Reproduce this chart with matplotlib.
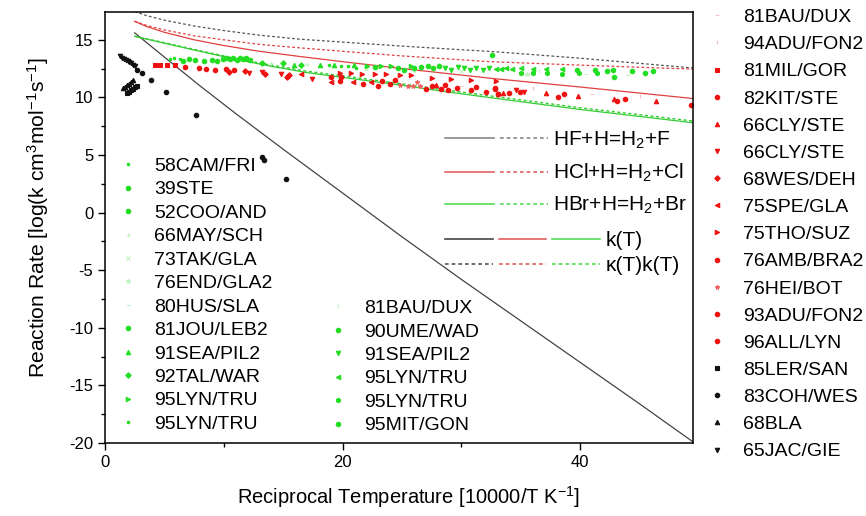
import matplotlib
matplotlib.use("Agg")
import matplotlib.pyplot as plt
from matplotlib.legend_handler import HandlerTuple
from matplotlib.lines import Line2D

plt.rcParams['font.family'] = ['Liberation Sans', 'DejaVu Sans']
plt.rcParams['mathtext.fontset'] = 'custom'
plt.rcParams['mathtext.rm'] = 'Liberation Sans'
plt.rcParams['mathtext.it'] = 'Liberation Sans:italic'
plt.rcParams['axes.unicode_minus'] = False

# --- theory curves (x = 10000/T, y = log k) ---
hf_k_x = [2.5, 5, 8, 11, 15, 20, 25, 30, 35, 40, 45, 49.5]
hf_k_y = [15.6, 13.5, 11.0, 8.6, 5.5, 1.7, -2.1, -5.8, -9.4, -13.0, -16.6, -19.9]
hf_kk_x = [2.5, 3.5, 5, 7.5, 10, 13, 16.4, 20, 25, 33, 40, 49.5]
hf_kk_y = [17.45, 17.1, 16.7, 16.2, 15.8, 15.4, 15.05, 14.8, 14.45, 13.95, 13.4, 12.55]

hcl_k_x = [2.5, 3.5, 5, 7.5, 10, 13, 16.4, 20, 25, 29, 33, 40, 49.5]
hcl_k_y = [16.6, 16.15, 15.65, 15.0, 14.5, 14.0, 13.55, 13.1, 12.5, 12.05, 11.6, 10.9, 9.9]
hcl_kk_x = [2.5, 3.5, 5, 7.5, 10, 13, 16.4, 20, 25, 32.4, 40, 49.5]
hcl_kk_y = [16.6, 16.25, 15.85, 15.35, 15.0, 14.6, 14.3, 14.0, 13.6, 13.1, 12.8, 12.45]

hbr_k_x = [2.5, 5, 8, 11, 14, 17, 21, 25, 29, 33, 40, 49.5]
hbr_k_y = [15.3, 14.7, 14.0, 13.3, 12.7, 12.15, 11.6, 11.05, 10.45, 9.9, 8.95, 7.8]
hbr_kk_x = [2.5, 5, 8, 11, 14, 17, 21, 25, 29, 33, 40, 49.5]
hbr_kk_y = [15.3, 14.75, 14.05, 13.38, 12.8, 12.27, 11.73, 11.18, 10.6, 10.05, 9.1, 7.95]

# --- HBr + H data (green) ---
g58cam = ([5.5, 5.8, 6.3], [13.32, 13.4, 13.32])
g39ste = ([6.6, 7.1, 7.6], [13.2, 13.32, 13.26])
g52coo = ([8.3, 9.0, 9.4], [13.2, 13.26, 13.12])
g66may = ([14.0, 17.0], [13.0, 12.9])
g73tak = ([22.0, 30.0], [12.5, 12.3])
g76end = ([26.0, 35.5], [12.4, 12.0])
g80hus = ([40.5, 44.0], [12.0, 11.9])
g81jou = ([9.9, 10.2, 10.5, 10.8, 11.1, 11.35, 11.6, 11.9, 12.2],
          [13.32, 13.4, 13.32, 13.38, 13.26, 13.38, 13.32, 13.38, 13.26])
g91sea = ([15.9, 18.1, 19.3, 21.0], [12.8, 12.8, 12.8, 12.8])
g92tal = ([13.2, 15.0, 16.5], [12.98, 12.98, 12.8])
g95lyn1 = ([22.05, 23.25, 24.1, 25.8], [12.75, 12.7, 12.7, 12.7])
g95lyn2 = ([18.9, 19.9, 20.45, 21.15], [12.8, 12.75, 12.7, 12.55])
g81bau = ([28.0, 36.5], [12.8, 12.3])
g90ume = ([22.7, 24.65, 25.2, 26.05, 26.6, 27.2, 27.6, 28.15],
          [12.6, 12.55, 12.35, 12.55, 12.6, 12.7, 12.55, 12.7])
g91sea2 = ([28.6, 29.15, 29.7, 30.25, 30.7, 31.25, 31.8, 32.35],
           [12.55, 12.35, 12.6, 12.55, 12.35, 12.55, 12.4, 12.55])
g95lyn3 = ([32.9, 33.3, 33.75, 34.3, 35.0, 36.0, 37.1, 38.45],
           [12.45, 12.45, 12.55, 12.45, 12.55, 12.45, 12.45, 12.45])
g95lyn4 = ([35.0, 36.0, 37.25, 38.45, 39.9, 41.4], [12.1, 12.15, 12.1, 12.05, 12.1, 12.1])
g95mit = ([39.7, 41.25, 42.3, 42.8, 42.85, 44.4, 45.5, 46.1, 32.6],
          [12.4, 12.4, 12.25, 12.35, 11.8, 12.25, 12.1, 12.25, 13.7])

# --- HCl + H data (red) ---
r81bau = ([30.0, 41.0], [11.0, 10.3])
r94adu = ([36.0, 45.0], [10.8, 10.1])
r81mil = ([4.2, 4.6, 5.2, 5.9], [12.83, 12.83, 12.83, 12.83])
r82kit = ([6.7, 7.9, 8.5, 9.3, 10.2, 10.9], [12.63, 12.55, 12.5, 12.4, 12.45, 12.4])
r66cly1 = ([37.1, 39.8, 42.85, 46.4, 27.9, 33.5], [10.4, 10.1, 9.9, 9.65, 11.1, 10.4])
r66cly2 = ([12.1, 13.2, 14.8, 17.4, 35.3, 34.6], [12.1, 12.2, 12.0, 11.6, 10.5, 10.6])
r68wes = ([10.4, 11.8, 13.5, 15.3, 15.5], [12.2, 12.3, 12.0, 11.8, 11.95])
r75spe = ([16.5, 19.0, 20.9, 22.4], [12.0, 11.3, 11.3, 11.3])
r75tho = ([19.8, 20.7, 21.6, 22.7, 23.7, 24.8, 25.8, 27.5, 29.1, 30.8, 32.9],
          [12.1, 12.1, 12.0, 12.0, 12.0, 11.9, 11.9, 11.7, 11.6, 11.5, 11.4])
r76amb = ([19.0, 19.8, 19.9, 21.7, 23.0, 23.3, 24.0, 24.4],
          [11.8, 11.4, 11.8, 11.2, 11.0, 11.4, 11.2, 11.5])
r76hei = ([24.8, 25.5, 25.9, 26.3, 26.5], [11.1, 10.95, 10.95, 11.3, 11.0])
r93adu = ([27.0, 27.5, 28.3, 28.6, 28.9, 29.6, 30.8, 31.2, 32.1, 32.8, 33.1],
          [10.7, 11.0, 10.7, 11.1, 10.6, 10.8, 10.6, 10.9, 10.5, 10.8, 10.3])
r96all = ([32.8, 33.05, 34.0, 34.9, 38.1, 38.65, 43.1, 43.8, 49.3],
          [10.7, 10.3, 10.4, 10.5, 10.0, 10.3, 9.65, 9.85, 9.35])

# --- HF + H data (black) ---
k85ler = ([1.82, 2.0, 2.2, 2.4, 2.55, 2.71], [10.37, 10.5, 10.62, 10.75, 10.87, 11.0])
k83coh = ([2.66, 3.08, 3.87, 5.18, 7.7, 13.2, 13.4, 15.2],
          [12.4, 12.1, 11.47, 10.43, 8.46, 4.8, 4.6, 2.93])
k68bla = ([1.54, 1.7, 1.88, 2.05, 2.22, 2.38], [10.8, 10.93, 11.07, 11.2, 11.33, 11.47])
k65jac = ([1.3, 1.45, 1.6, 1.75, 1.9, 2.05, 2.2, 2.35, 2.5],
          [13.55, 13.45, 13.35, 13.25, 13.15, 13.05, 12.95, 12.85, 12.74])

GREEN = '#22dd22'
GREEN_F = '#bff3bf'
RED = '#ee1111'
RED_F = '#f5c0c0'
BLACK = '#111111'

fig = plt.figure(figsize=(8.66, 5.16), dpi=100)
ax = fig.add_axes([0.1212, 0.1415, 0.679, 0.835])

dash = (0, (2.2, 1.8))
ax.plot(hf_k_x, hf_k_y, color='#444444', lw=0.9)
ax.plot(hf_kk_x, hf_kk_y, color='#555555', lw=0.9, ls=dash)
ax.plot(hcl_k_x, hcl_k_y, color='#e04040', lw=0.9)
ax.plot(hcl_kk_x, hcl_kk_y, color='#e04040', lw=0.9, ls=dash)
ax.plot(hbr_k_x, hbr_k_y, color='#33cc33', lw=0.9)
ax.plot(hbr_kk_x, hbr_kk_y, color='#33cc33', lw=1.0, ls=dash)


def pts(data, marker, color, ms=3.2):
    h, = ax.plot(data[0], data[1], ls='none', marker=marker, ms=ms,
                 color=color, mec=color, mew=0.8)
    return h


green_col1 = [
    (pts(g58cam, '.', GREEN, 3.5), '58CAM/FRI'),
    (pts(g39ste, 'o', GREEN), '39STE'),
    (pts(g52coo, 'o', GREEN), '52COO/AND'),
    (pts(g66may, '+', GREEN_F), '66MAY/SCH'),
    (pts(g73tak, 'x', GREEN_F), '73TAK/GLA'),
    (pts(g76end, '*', GREEN_F), '76END/GLA2'),
    (pts(g80hus, '_', GREEN_F), '80HUS/SLA'),
    (pts(g81jou, 'o', GREEN), '81JOU/LEB2'),
    (pts(g91sea, '^', GREEN), '91SEA/PIL2'),
    (pts(g92tal, 'D', GREEN, 2.8), '92TAL/WAR'),
    (pts(g95lyn1, '>', GREEN), '95LYN/TRU'),
    (pts(g95lyn2, '.', GREEN, 3.5), '95LYN/TRU'),
]
green_col2 = [
    (pts(g81bau, '|', GREEN_F), '81BAU/DUX'),
    (pts(g90ume, 'o', GREEN), '90UME/WAD'),
    (pts(g91sea2, 'v', GREEN), '91SEA/PIL2'),
    (pts(g95lyn3, '<', GREEN), '95LYN/TRU'),
    (pts(g95lyn4, 'h', GREEN), '95LYN/TRU'),
    (pts(g95mit, 'o', GREEN), '95MIT/GON'),
]
right_items = [
    (pts(r81bau, '_', RED_F), '81BAU/DUX'),
    (pts(r94adu, '|', RED_F), '94ADU/FON2'),
    (pts(r81mil, 's', RED, 2.8), '81MIL/GOR'),
    (pts(r82kit, 'o', RED), '82KIT/STE'),
    (pts(r66cly1, '^', RED), '66CLY/STE'),
    (pts(r66cly2, 'v', RED), '66CLY/STE'),
    (pts(r68wes, 'D', RED, 2.8), '68WES/DEH'),
    (pts(r75spe, '<', RED), '75SPE/GLA'),
    (pts(r75tho, '>', RED), '75THO/SUZ'),
    (pts(r76amb, 'o', RED), '76AMB/BRA2'),
    (pts(r76hei, '*', '#f06060'), '76HEI/BOT'),
    (pts(r93adu, 'o', RED), '93ADU/FON2'),
    (pts(r96all, 'o', RED), '96ALL/LYN'),
    (pts(k85ler, 's', BLACK, 2.8), '85LER/SAN'),
    (pts(k83coh, 'o', BLACK), '83COH/WES'),
    (pts(k68bla, '^', BLACK), '68BLA'),
    (pts(k65jac, 'v', BLACK), '65JAC/GIE'),
]

ax.set_xlim(0, 49.5)
ax.set_ylim(-20, 17.4)
ax.set_xticks([0, 20, 40])
ax.set_xticks([10, 30], minor=True)
ax.set_yticks([-20, -15, -10, -5, 0, 5, 10, 15])
ax.set_yticks([-17.5, -12.5, -7.5, -2.5, 2.5, 7.5, 12.5], minor=True)
ax.tick_params(axis='both', which='major', labelsize=12, length=5, width=1)
ax.tick_params(axis='both', which='minor', length=3, width=1)
for s in ax.spines.values():
    s.set_linewidth(1.1)
ax.set_xlabel('Reciprocal Temperature [10000/T K$^{-1}$]', fontsize=14.5)
ax.set_ylabel('Reaction Rate [log(k cm$^3$mol$^{-1}$s$^{-1}$]', fontsize=15.2)
ax.xaxis.set_label_coords(0.517, -0.125)
ax.yaxis.set_label_coords(-0.114, 0.524)
ax.xaxis.label.set_va('center')
ax.yaxis.label.set_va('center')

FS = 14
common = dict(frameon=False, borderpad=0, borderaxespad=0, numpoints=1,
              bbox_transform=fig.transFigure, loc='upper left')

fig.legend([h for h, _ in green_col1], [t for _, t in green_col1], fontsize=FS,
           bbox_to_anchor=(0.1366, 0.695), handlelength=1.0, handletextpad=0.84,
           labelspacing=0.30, **common)
fig.legend([h for h, _ in green_col2], [t for _, t in green_col2], fontsize=FS,
           bbox_to_anchor=(0.3791, 0.4195), handlelength=1.0, handletextpad=0.84,
           labelspacing=0.30, **common)
fig.legend([h for h, _ in right_items], [t for _, t in right_items], fontsize=FS,
           bbox_to_anchor=(0.8167, 0.9835), handlelength=1.0, handletextpad=0.84,
           labelspacing=0.49, **common)

# curve legends
hf_g = Line2D([], [], color='#888888', lw=1.2)
hf_gd = Line2D([], [], color='#888888', lw=1.2, ls=dash)
hcl_g = Line2D([], [], color='#e06060', lw=1.2)
hcl_gd = Line2D([], [], color='#e06060', lw=1.2, ls=dash)
hbr_g = Line2D([], [], color='#55dd55', lw=1.2)
hbr_gd = Line2D([], [], color='#55dd55', lw=1.2, ls=dash)
k_b = Line2D([], [], color='#444444', lw=1.2)
k_bd = Line2D([], [], color='#555555', lw=1.2, ls=dash)

fig.legend([(hf_g, hf_gd), (hcl_g, hcl_gd), (hbr_g, hbr_gd)],
           ['HF+H=H$_2$+F', 'HCl+H=H$_2$+Cl', 'HBr+H=H$_2$+Br'], fontsize=15,
           handler_map={tuple: HandlerTuple(ndivide=None, pad=0.29)},
           bbox_to_anchor=(0.514, 0.749), handlelength=4.94, handletextpad=0.24,
           labelspacing=0.53, **common)
fig.legend([(k_b, hcl_g, hbr_g), (k_bd, hcl_gd, hbr_gd)],
           ['k(T)', 'κ(T)k(T)'], fontsize=15,
           handler_map={tuple: HandlerTuple(ndivide=None, pad=0.29)},
           bbox_to_anchor=(0.514, 0.552), handlelength=7.44, handletextpad=0.28,
           labelspacing=0.27, **common)

fig.savefig('out.png', dpi=100)
